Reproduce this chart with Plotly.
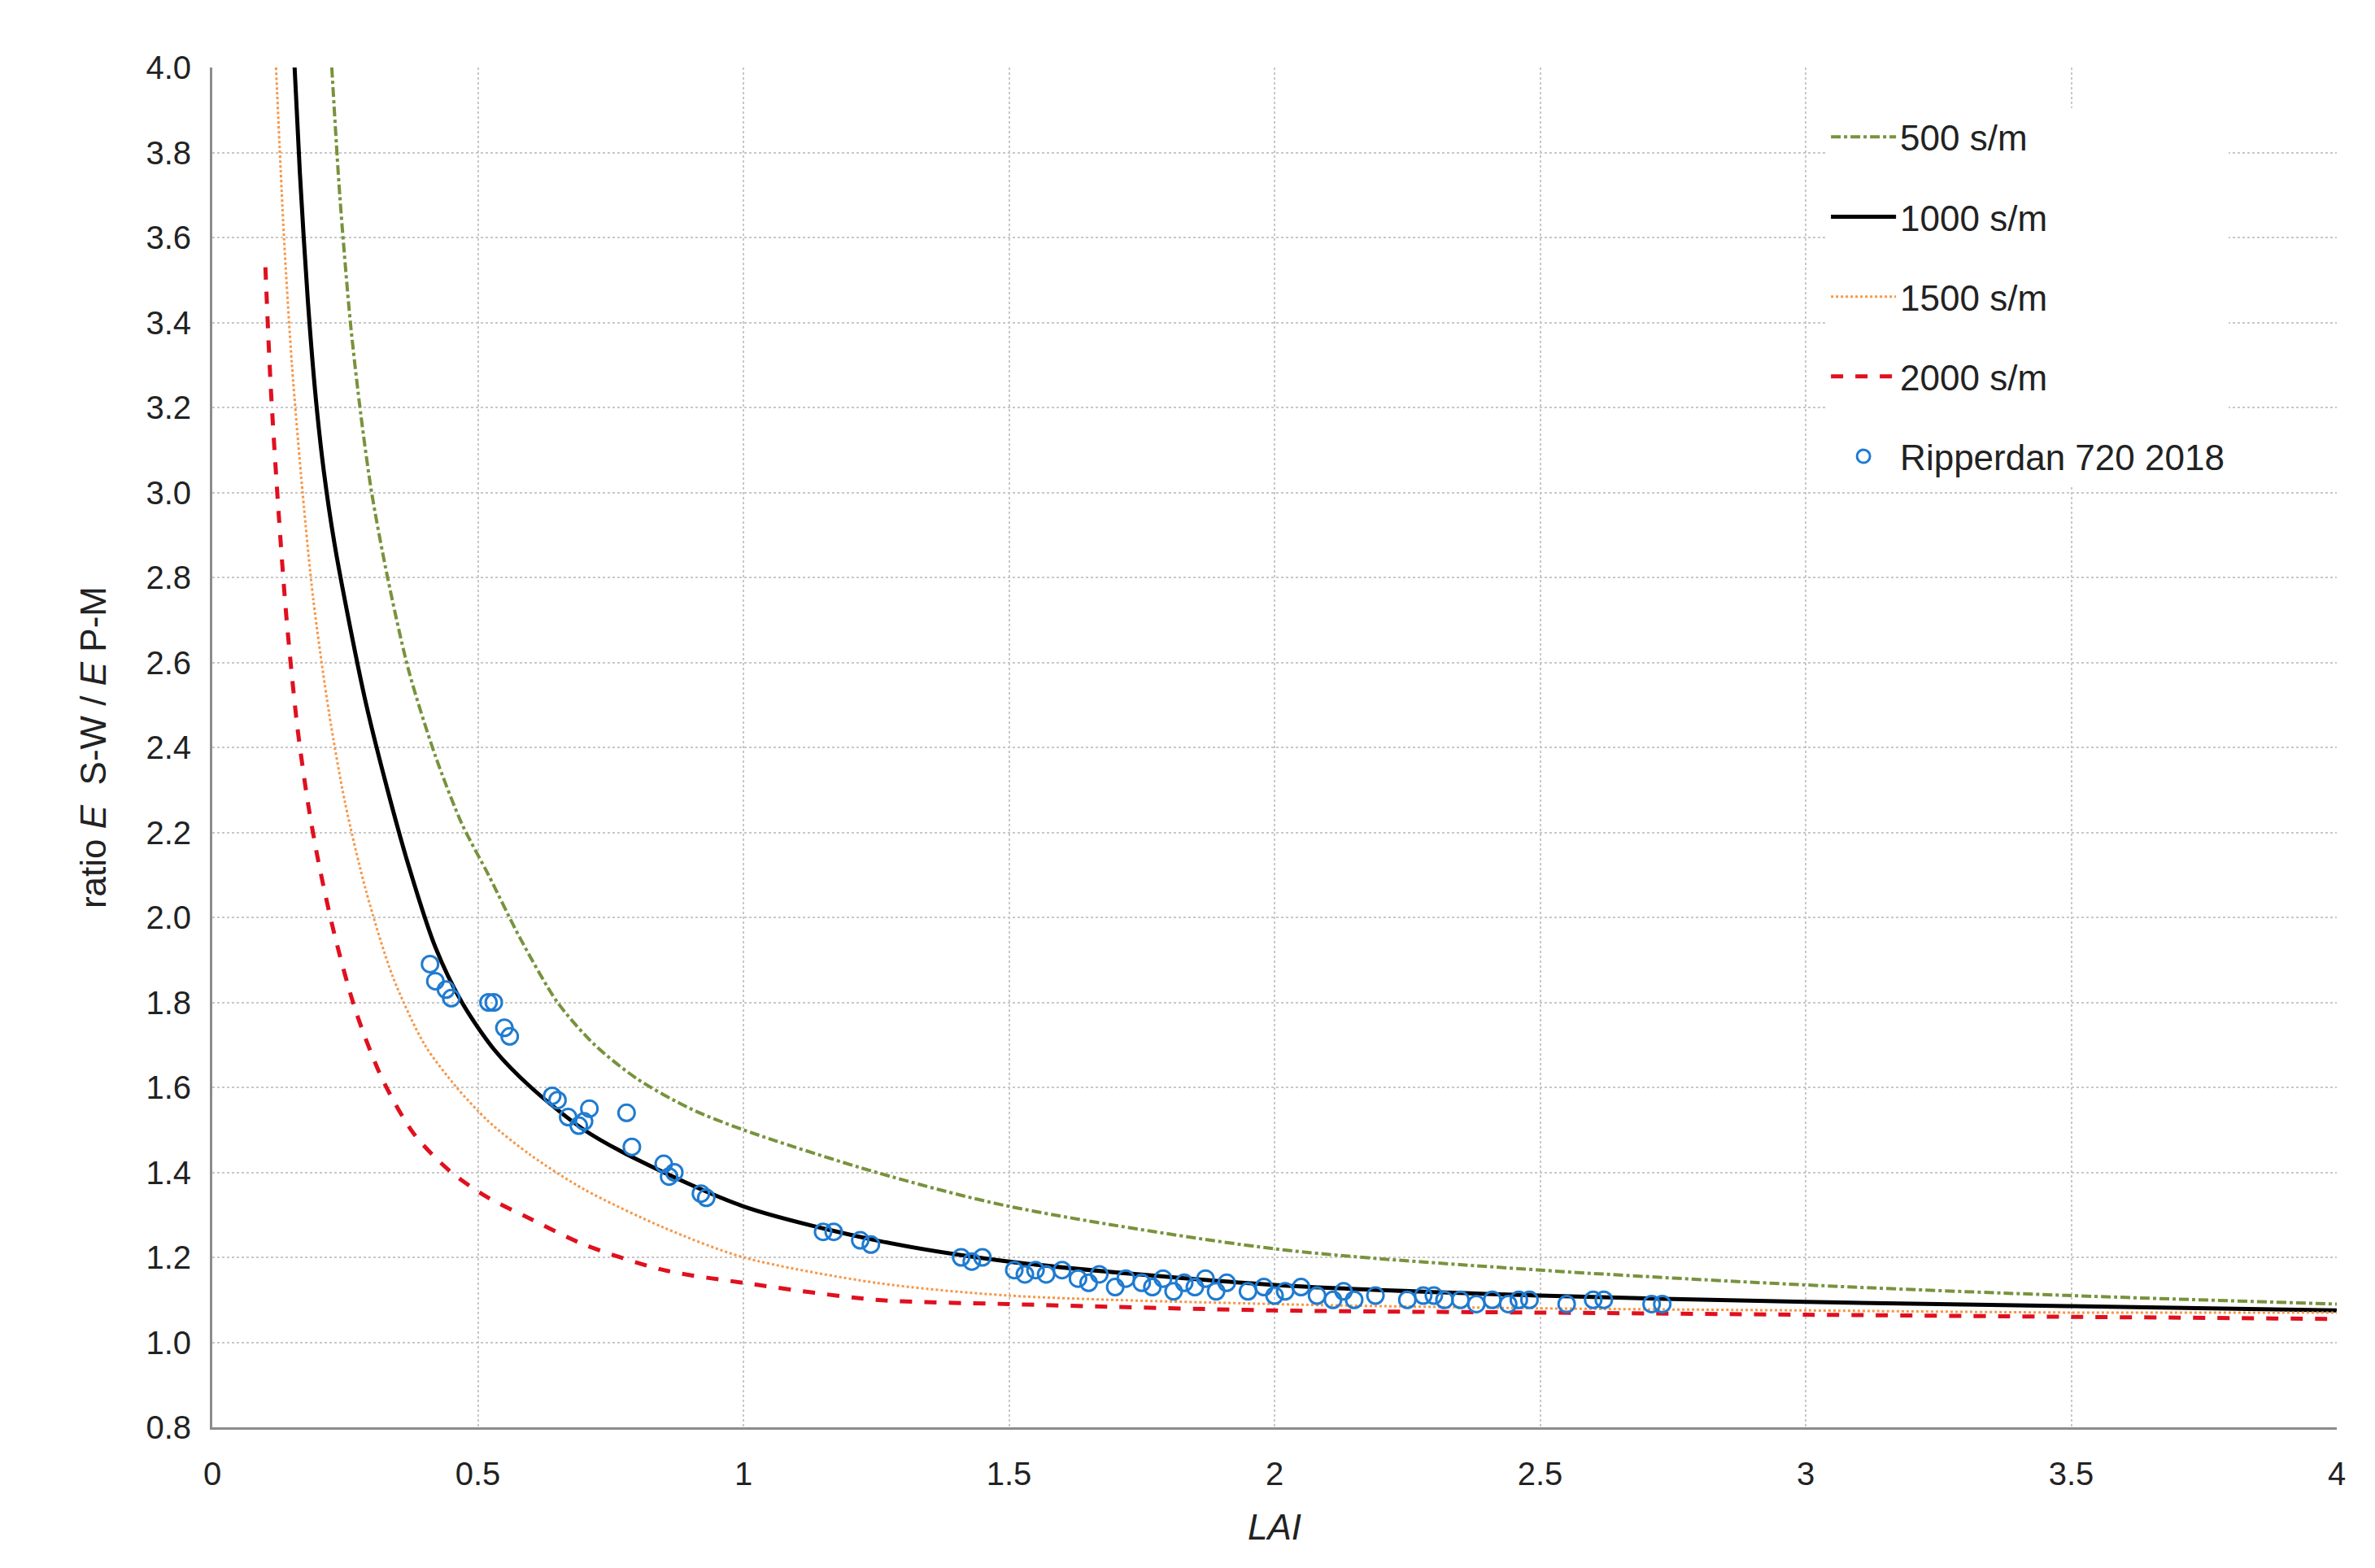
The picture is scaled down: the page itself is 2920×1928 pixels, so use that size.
import plotly.graph_objects as go

x500 = [0.225, 0.24, 0.26, 0.28, 0.3, 0.33, 0.37, 0.42, 0.47, 0.52, 0.58, 0.65, 0.72, 0.8, 0.9, 1.0, 1.25, 1.5, 2.0, 2.5, 3.0, 3.5, 4.0]
y500 = [4.0, 3.7, 3.4, 3.18, 3.0, 2.8, 2.58, 2.38, 2.22, 2.1, 1.95, 1.8, 1.7, 1.62, 1.55, 1.5, 1.4, 1.32, 1.22, 1.17, 1.135, 1.11, 1.09]
x1000 = [0.155, 0.165, 0.18, 0.195, 0.21, 0.23, 0.26, 0.29, 0.33, 0.37, 0.42, 0.47, 0.53, 0.6, 0.7, 0.8, 1.0, 1.25, 1.5, 2.0, 2.5, 3.0, 3.5, 4.0]
y1000 = [4.0, 3.75, 3.45, 3.22, 3.05, 2.88, 2.68, 2.5, 2.3, 2.12, 1.93, 1.8, 1.69, 1.6, 1.5, 1.43, 1.32, 1.24, 1.19, 1.135, 1.11, 1.095, 1.085, 1.075]
x1500 = [0.12, 0.135, 0.15, 0.17, 0.19, 0.22, 0.25, 0.29, 0.34, 0.4, 0.46, 0.52, 0.6, 0.7, 0.85, 1.0, 1.25, 1.5, 2.0, 2.5, 3.0, 3.5, 4.0]
y1500 = [4.0, 3.6, 3.3, 3.0, 2.75, 2.48, 2.27, 2.06, 1.86, 1.7, 1.6, 1.52, 1.44, 1.36, 1.27, 1.2, 1.14, 1.11, 1.09, 1.08, 1.075, 1.07, 1.07]
x2000 = [0.1, 0.11, 0.125, 0.14, 0.16, 0.18, 0.2, 0.23, 0.27, 0.32, 0.38, 0.45, 0.52, 0.6, 0.7, 0.85, 1.0, 1.25, 1.5, 2.0, 2.5, 3.0, 3.5, 4.0]
y2000 = [3.53, 3.25, 2.95, 2.7, 2.45, 2.27, 2.13, 1.96, 1.78, 1.62, 1.49, 1.4, 1.34, 1.29, 1.23, 1.17, 1.14, 1.1, 1.09, 1.075, 1.07, 1.065, 1.06, 1.055]

xobs = [0.41, 0.42, 0.44, 0.45, 0.52, 0.53, 0.55, 0.56, 0.64, 0.65, 0.67, 0.69, 0.7, 0.71, 0.78, 0.79, 0.85, 0.86, 0.87, 0.92, 0.93,
        1.15, 1.17, 1.22, 1.24, 1.41, 1.43, 1.45, 1.51, 1.53, 1.55, 1.57, 1.6, 1.63, 1.65, 1.67, 1.7, 1.72, 1.75, 1.77, 1.79,
        1.81, 1.83, 1.85, 1.87, 1.89, 1.91, 1.95, 1.98, 2.0, 2.02, 2.05, 2.08, 2.11, 2.13, 2.15, 2.19, 2.25, 2.28, 2.3, 2.32,
        2.35, 2.38, 2.41, 2.44, 2.46, 2.48, 2.55, 2.6, 2.62, 2.71, 2.73]
yobs = [1.89, 1.85, 1.83, 1.81, 1.8, 1.8, 1.74, 1.72, 1.58, 1.57, 1.53, 1.51, 1.52, 1.55, 1.54, 1.46, 1.42, 1.39, 1.4, 1.35, 1.34,
        1.26, 1.26, 1.24, 1.23, 1.2, 1.19, 1.2, 1.17, 1.16, 1.17, 1.16, 1.17, 1.15, 1.14, 1.16, 1.13, 1.15, 1.14, 1.13, 1.15,
        1.12, 1.14, 1.13, 1.15, 1.12, 1.14, 1.12, 1.13, 1.11, 1.12, 1.13, 1.11, 1.1, 1.12, 1.1, 1.11, 1.1, 1.11, 1.11, 1.1,
        1.1, 1.09, 1.1, 1.09, 1.1, 1.1, 1.09, 1.1, 1.1, 1.09, 1.09]

fig = go.Figure()
fig.add_trace(go.Scatter(x=x500, y=y500, mode="lines", name="500 s/m", legendgroup="a", line=dict(color="#77933c", width=4, dash="dashdot", shape="spline", smoothing=0.8)))
fig.add_trace(go.Scatter(x=x1000, y=y1000, mode="lines", name="1000 s/m", legendgroup="b", line=dict(color="black", width=5, shape="spline", smoothing=0.8)))
fig.add_trace(go.Scatter(x=x1500, y=y1500, mode="lines", name="1500 s/m", legendgroup="c", line=dict(color="#f79646", width=3, dash="dot", shape="spline", smoothing=0.8)))
fig.add_trace(go.Scatter(x=x2000, y=y2000, mode="lines", name="2000 s/m", legendgroup="d", line=dict(color="#e0101f", width=5, dash="dash", shape="spline", smoothing=0.8)))
fig.add_trace(go.Scatter(x=xobs, y=yobs, mode="markers", name="Ripperdan 720 2018", legendgroup="e",
                         marker=dict(symbol="circle-open", color="#1f7bd0", size=20, line=dict(width=3))))

ax = dict(showgrid=True, gridcolor="#c8c8c8", gridwidth=2, griddash="dot", zeroline=False,
          showline=True, linecolor="#8c8c8c", linewidth=3, mirror=False, ticks="",
          tickfont=dict(size=40, color="#222"))
fig.update_layout(
    width=2920, height=1928, paper_bgcolor="white", plot_bgcolor="white",
    font=dict(family="Liberation Sans", color="#222"),
    margin=dict(l=253, r=55, t=75, b=181),
    xaxis=dict(**ax, range=[0, 4], dtick=0.5, title=dict(text="<i>LAI</i>", font=dict(size=44), standoff=30)),
    yaxis=dict(**ax, range=[0.8, 4.0], dtick=0.2, tickformat=".1f", title=dict(text="ratio <i>E</i>  S-W / <i>E</i> P-M", font=dict(size=44), standoff=35)),
    legend=dict(x=0.76, y=0.97, xanchor="left", yanchor="top", bgcolor="white", font=dict(size=44),
                tracegroupgap=38, itemwidth=80),
)
fig.update_xaxes(ticklabelstandoff=20)
fig.update_yaxes(ticklabelstandoff=15)
fig.write_html("out.html")
